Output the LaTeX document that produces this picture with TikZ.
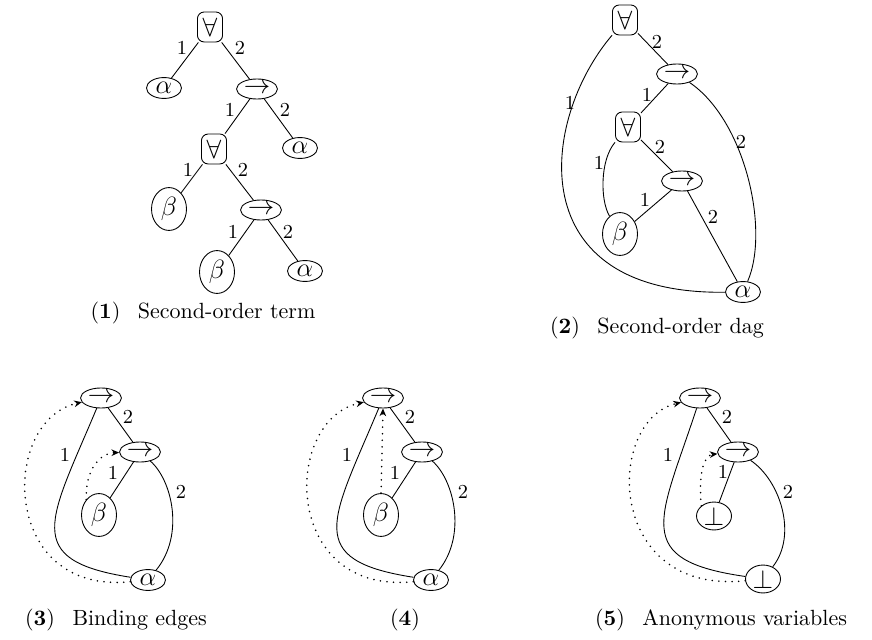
\documentclass[tikz,border=0pt]{standalone}
\usetikzlibrary{shapes.geometric,arrows.meta}
\begin{document}
\begin{tikzpicture}[x=0.4545pt,y=-0.4545pt,
 v/.style={draw,ellipse,inner sep=0pt,minimum width=15.9pt,minimum height=9.5pt,font=\large},
 arr/.style={v,minimum width=18.6pt,minimum height=9.1pt},
 bv/.style={v,minimum height=19.5pt},
 bot/.style={v,minimum height=12.7pt},
 fa/.style={draw,rectangle,rounded corners=3pt,inner sep=0pt,minimum width=11.4pt,minimum height=13.6pt,font=\large},
 lab/.style={font=\small,inner sep=0pt},
 bind/.style={line cap=round,dash pattern=on 0pt off 3pt,line width=0.8pt,-{Stealth[length=3.5pt,width=3pt]}},
 captxt/.style={inner sep=0pt}
]
\useasboundingbox (0,0) rectangle (872,640);

% ---------- Panel 1 ----------
\node[fa] (p1f1) at (210,27) {$\forall$};
\node[v] (p1a1) at (164,88) {$\alpha$};
\node[arr] (p1r1) at (257,89) {$\rightarrow$};
\node[fa] (p1f2) at (214,149) {$\forall$};
\node[v] (p1a2) at (300,148) {$\alpha$};
\node[bv] (p1b1) at (169,209) {$\beta$};
\node[arr] (p1r2) at (261,210) {$\rightarrow$};
\node[bv] (p1b2) at (217,272) {$\beta$};
\node[v] (p1a3) at (305,271) {$\alpha$};
\draw (p1f1) -- (p1a1); \node[lab] (p1l1) at (182,48) {1};
\draw (p1f1) -- (p1r1); \node[lab] (p1l2) at (240,48) {2};
\draw (p1r1) -- (p1f2); \node[lab] (p1l3) at (230,110) {1};
\draw (p1r1) -- (p1a2); \node[lab] (p1l4) at (285,110) {2};
\draw (p1f2) -- (p1b1); \node[lab] (p1l5) at (188,170) {1};
\draw (p1f2) -- (p1r2); \node[lab] (p1l6) at (243,170) {2};
\draw (p1r2) -- (p1b2); \node[lab] (p1l7) at (233,232) {1};
\draw (p1r2) -- (p1a3); \node[lab] (p1l8) at (288,232) {2};
\node[captxt] (c1) at (203,313) {(\textbf{1})\hspace{8pt}Second-order term};

% ---------- Panel 2 ----------
\node[fa] (p2f1) at (625,20) {$\forall$};
\node[arr] (p2r1) at (677,74) {$\rightarrow$};
\node[fa] (p2f2) at (628,127) {$\forall$};
\node[arr] (p2r2) at (682,181) {$\rightarrow$};
\node[bv] (p2b) at (620,234) {$\beta$};
\node[v] (p2a) at (743,292) {$\alpha$};
\draw (p2f1) -- (p2r1); \node[lab] (p2l1) at (657,42) {2};
\draw (p2f1) .. controls (540,120) and (520,295) .. (p2a); \node[lab] (p2l2) at (570,103) {1};
\draw (p2r1) -- (p2f2); \node[lab] (p2l3) at (647,95) {1};
\draw (p2r1) .. controls (745,120) and (770,230) .. (p2a); \node[lab] (p2l4) at (741,142) {2};
\draw (p2f2) -- (p2r2); \node[lab] (p2l5) at (660,147) {2};
\draw (p2f2) .. controls (600,160) and (600,200) .. (p2b); \node[lab] (p2l6) at (599,163) {1};
\draw (p2r2) -- (p2b); \node[lab] (p2l7) at (645,200) {1};
\draw (p2r2) -- (p2a); \node[lab] (p2l8) at (713,217) {2};
\node[captxt] (c2) at (657,328) {(\textbf{2})\hspace{8pt}Second-order dag};

% ---------- Panel 3 ----------
\node[arr] (p3t) at (101,398) {$\rightarrow$};
\node[arr] (p3r) at (140,452) {$\rightarrow$};
\node[bv] (p3b) at (99,515) {$\beta$};
\node[v] (p3a) at (148,580) {$\alpha$};
\draw (p3t) -- (p3r); \node[lab] (p3l1) at (128,417) {2};
\draw (p3t) .. controls (50,520) and (20,560) .. (p3a); \node[lab] (p3l2) at (65,455) {1};
\draw (p3r) -- (p3b); \node[lab] (p3l3) at (113,473) {1};
\draw (p3r) .. controls (172,480) and (185,535) .. (p3a); \node[lab] (p3l4) at (181,492) {2};
\draw[bind] (p3a) .. controls (0,595) and (0,420) .. (p3t);
\draw[bind] (p3b.north west) .. controls (85,470) and (100,453) .. (p3r);
\node[captxt] (c3) at (116,620) {(\textbf{3})\hspace{8pt}Binding edges};

% ---------- Panel 4 ----------
\node[arr] (p4t) at (383,398) {$\rightarrow$};
\node[arr] (p4r) at (422,452) {$\rightarrow$};
\node[bv] (p4b) at (381,515) {$\beta$};
\node[v] (p4a) at (431,580) {$\alpha$};
\draw (p4t) -- (p4r); \node[lab] (p4l1) at (410,417) {2};
\draw (p4t) .. controls (332,520) and (302,560) .. (p4a); \node[lab] (p4l2) at (347,455) {1};
\draw (p4r) -- (p4b); \node[lab] (p4l3) at (395,473) {1};
\draw (p4r) .. controls (454,480) and (467,535) .. (p4a); \node[lab] (p4l4) at (463,492) {2};
\draw[bind] (p4a) .. controls (282,595) and (282,420) .. (p4t);
\draw[bind] (p4b.north) -- (p4t.south);
\node[captxt] (c4) at (405,620) {(\textbf{4})};

% ---------- Panel 5 ----------
\node[arr] (p5t) at (700,398) {$\rightarrow$};
\node[arr] (p5r) at (738,452) {$\rightarrow$};
\node[bot] (p5s) at (714,516) {$\bot$};
\node[bot] (p5u) at (763,579) {$\bot$};
\draw (p5t) -- (p5r); \node[lab] (p5l1) at (727,417) {2};
\draw (p5t) .. controls (660,520) and (630,560) .. (p5u); \node[lab] (p5l2) at (668,455) {1};
\draw (p5r) -- (p5s); \node[lab] (p5l3) at (723,472) {1};
\draw (p5r) .. controls (780,480) and (798,535) .. (p5u); \node[lab] (p5l4) at (788,492) {2};
\draw[bind] (p5u) .. controls (605,595) and (605,420) .. (p5t);
\draw[bind] (p5s.north west) .. controls (698,470) and (705,455) .. (p5r);
\node[captxt] (c5) at (721,620) {(\textbf{5})\hspace{8pt}Anonymous variables};
\end{tikzpicture}
\end{document}
